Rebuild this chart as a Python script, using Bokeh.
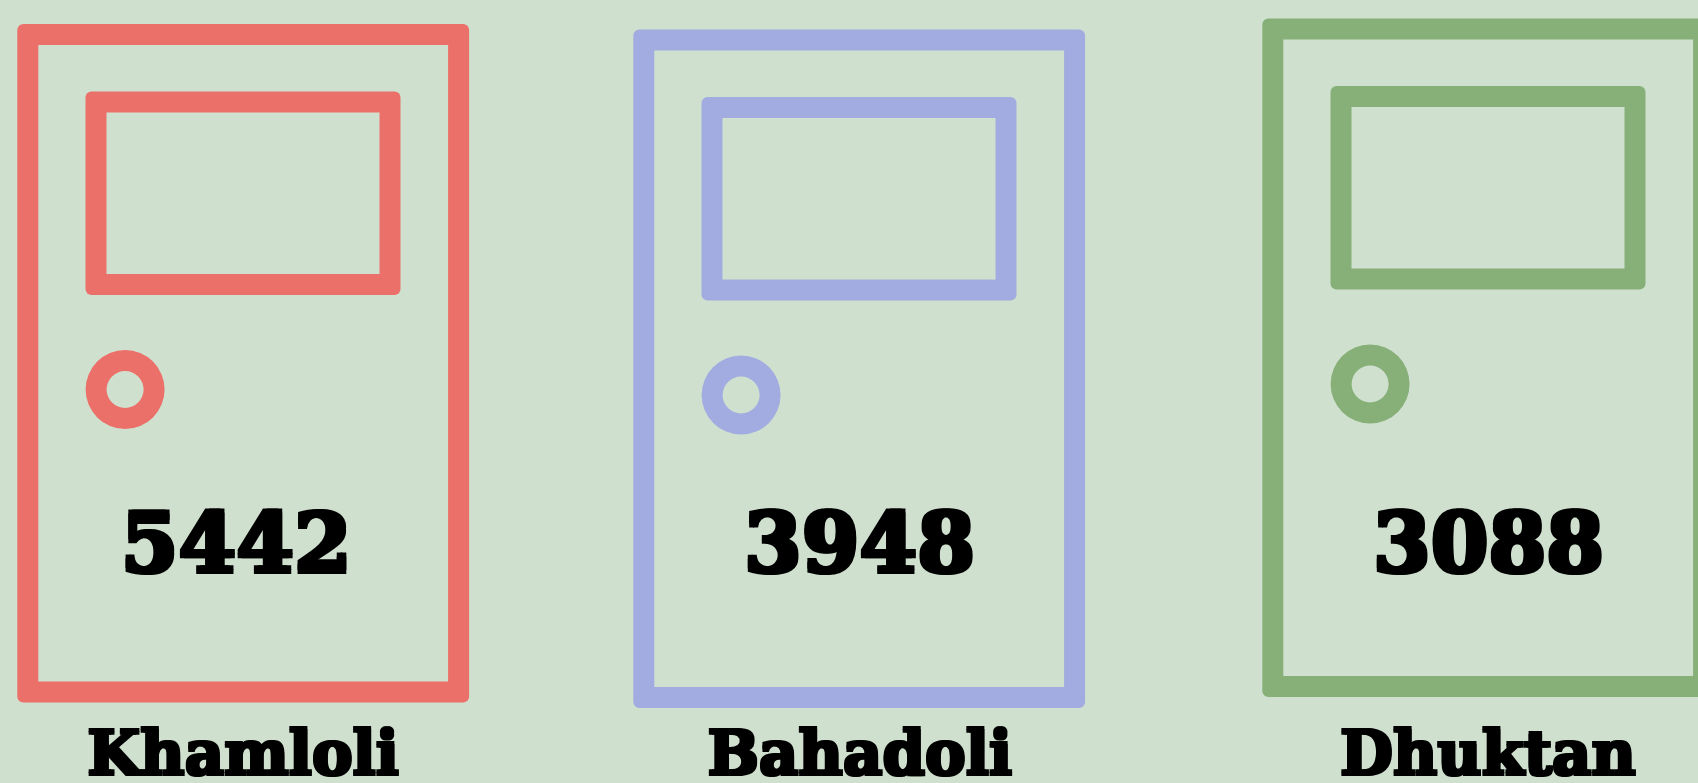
from bokeh.plotting import figure
from bokeh.models import Range1d, ColumnDataSource
from bokeh.core.properties import value
from bokeh.embed import file_html
from bokeh.resources import INLINE

# Chart content
categories = ["Khamloli", "Bahadoli", "Dhuktan"]
values = [5442, 3948, 3088]
colors = ["#EC706A", "#A3ACE0", "#87AF78"]

BG = "#CFE1CE"
W, H = 1698, 783
FONT = "DejaVu Serif"

# Layout, in page pixels
door_dx = [0, 616, 1245]
door_dy = [0, 5.5, -5.5]
value_cx = [235.7, 859, 1488]
label_cx = [242.6, 859.3, 1487.5]
stroke = 21

p = figure(width=W, height=H, output_backend="svg", toolbar_location=None,
           x_range=Range1d(0, W), y_range=Range1d(H, 0),
           min_border=0, outline_line_color=None,
           background_fill_color=BG, border_fill_color=BG)
p.axis.visible = False
p.grid.visible = False


def frame(left, right, top, bottom, dx, dy, color):
    """Rounded frame: solid block in the door colour, background hole inside."""
    p.quad(left=[left + dx], right=[right + dx], top=[top + dy], bottom=[bottom + dy],
           fill_color=color, line_color=None, border_radius=6)
    p.quad(left=[left + dx + stroke], right=[right + dx - stroke],
           top=[top + dy + stroke], bottom=[bottom + dy - stroke],
           fill_color=BG, line_color=None)


for dx, dy, color in zip(door_dx, door_dy, colors):
    frame(16.8, 468.6, 23.5, 702, dx, dy, color)   # door
    frame(85, 400, 91, 294.5, dx, dy, color)       # window
    p.annulus(x=[124.6 + dx], y=[389 + dy], inner_radius=18.5, outer_radius=39.5,
              fill_color=color, line_color=None)   # handle

src = ColumnDataSource(dict(
    vx=value_cx, lx=label_cx, vy=[541] * 3, ly=[752] * 3,
    val=[str(v) for v in values], cat=categories,
))


def heavy_text(x, y, text, size, spread):
    """The heavy slab face is not installed: overprint to thicken the strokes."""
    for ox, oy in [(-spread, -spread), (spread, -spread), (-spread, spread), (spread, spread), (0, 0)]:
        p.text(x=x, y=y, text=text, source=src, text_align="center",
               text_baseline="alphabetic", text_color="#000000",
               x_offset=ox, y_offset=oy,
               text_font=value(FONT), text_font_style="bold", text_font_size=size)


heavy_text("vx", "vy", "val", "83px", 2)
heavy_text("lx", "ly", "cat", "61px", 1.5)

style = "<style>html,body{margin:0;padding:0;overflow:hidden;background:%s}</style>" % BG
open("out.html", "w").write(file_html(p, INLINE).replace("</head>", style + "</head>"))
